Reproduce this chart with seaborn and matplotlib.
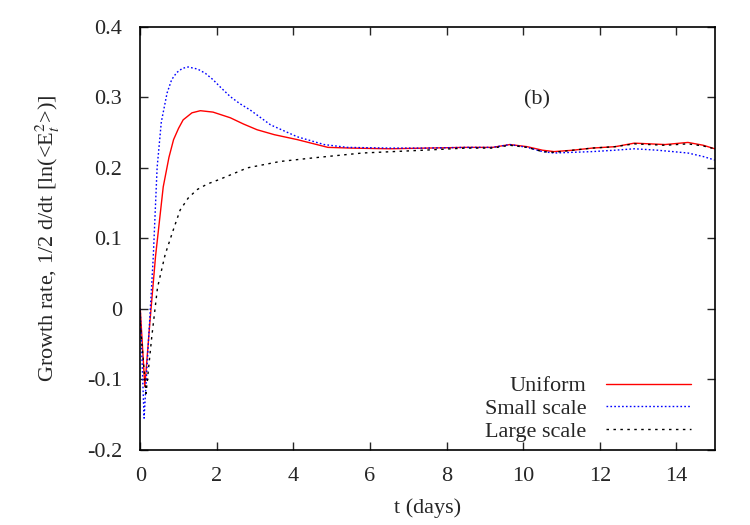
import matplotlib
matplotlib.use("Agg")
import matplotlib.pyplot as plt
import seaborn as sns
import pandas as pd

# values
t_uniform = [0, 0.12, 0.25, 0.4, 0.6, 0.75, 0.87, 1.0, 1.12, 1.35, 1.57, 1.9, 2.35, 2.7, 3.05,
             3.5, 4.1, 4.9, 5.5, 6.5, 7.5, 8.5, 9.2, 9.65, 10.1, 10.5, 10.8, 11.3, 11.8, 12.4,
             12.9, 13.3, 13.7, 14.3, 14.7, 15]
g_uniform = [0.0, -0.11, -0.02, 0.075, 0.173, 0.215, 0.24, 0.256, 0.268, 0.278, 0.281, 0.279,
             0.271, 0.262, 0.254, 0.247, 0.24, 0.229, 0.228, 0.227, 0.228, 0.229, 0.229, 0.233,
             0.23, 0.225, 0.223, 0.225, 0.228, 0.23, 0.235, 0.234, 0.233, 0.236, 0.232, 0.227]

t_small = [0, 0.1, 0.2, 0.34, 0.44, 0.55, 0.7, 0.82, 0.95, 1.1, 1.25, 1.5, 1.7, 1.9, 2.1,
           2.35, 2.6, 2.87, 3.4, 4.1, 4.8, 5.4, 6.5, 7.5, 8.5, 9.2, 9.65, 10.1, 10.5, 10.8,
           11.3, 11.8, 12.4, 12.9, 13.5, 14.3, 14.7, 15]
g_small = [0.0, -0.155, -0.06, 0.074, 0.2, 0.265, 0.306, 0.325, 0.335, 0.341, 0.343, 0.34,
           0.334, 0.325, 0.314, 0.301, 0.291, 0.282, 0.261, 0.244, 0.233, 0.229, 0.228, 0.228,
           0.229, 0.229, 0.233, 0.229, 0.223, 0.221, 0.222, 0.223, 0.225, 0.227, 0.225, 0.221,
           0.216, 0.211]

t_large = [0, 0.15, 0.3, 0.45, 0.65, 0.85, 1.04, 1.25, 1.48, 1.75, 2.09, 2.8, 3.65, 4.5,
           5.8, 7.4, 8.5, 9.2, 9.65, 10.1, 10.5, 10.8, 11.3, 11.8, 12.4, 12.9, 13.3, 13.7,
           14.3, 14.7, 15]
g_large = [-0.02, -0.12, -0.04, 0.03, 0.077, 0.11, 0.14, 0.157, 0.169, 0.177, 0.184, 0.2,
           0.209, 0.214, 0.221, 0.225, 0.228, 0.228, 0.232, 0.229, 0.223, 0.222, 0.225, 0.228,
           0.23, 0.234, 0.233, 0.232, 0.234, 0.231, 0.227]

labels = ["Uniform", "Small scale", "Large scale"]
x_ticks = [0, 2, 4, 6, 8, 10, 12, 14]
y_ticks = [-0.2, -0.1, 0, 0.1, 0.2, 0.3, 0.4]

sns.set_style("white")
plt.rcParams["font.family"] = ["Liberation Serif", "DejaVu Serif"]
plt.rcParams["mathtext.fontset"] = "stix"

fig = plt.figure(figsize=(7.5, 5.25), dpi=100)
ax = fig.add_axes([0.187, 0.143, 0.766, 0.806])

styles = [("red", "-"), ("blue", (0, (1.2, 1.6))), ("black", (0, (1.8, 3.2)))]
series = [(t_uniform, g_uniform), (t_small, g_small), (t_large, g_large)]
for (tt, gg), lab, (col, ls) in zip(series, labels, styles):
    df = pd.DataFrame({"t": tt, "g": gg})
    sns.lineplot(data=df, x="t", y="g", ax=ax, color=col, linestyle=ls,
                 linewidth=1.0, label=lab, sort=False)

ax.set_xlim(0, 15)
ax.set_ylim(-0.2, 0.4)
ax.set_xticks(x_ticks)
ax.set_xticklabels([str(v) for v in x_ticks])
ax.set_yticks(y_ticks)
ax.set_yticklabels(["-0.2", "-0.1", "0", "0.1", "0.2", "0.3", "0.4"])
ax.tick_params(direction="in", length=6, width=1, labelsize=16,
               top=True, right=True, bottom=True, left=True)
ax.tick_params(axis="x", pad=12)
ax.tick_params(axis="y", pad=13)
for sp in ax.spines.values():
    sp.set_linewidth(1.2)
    sp.set_color("black")

ax.set_xlabel("t (days)", fontsize=16, labelpad=9)
ax.set_ylabel(r"Growth rate, 1/2 d/dt [ln(<E$_t^2$>)]", fontsize=16, labelpad=18)
ax.text(10.35, 0.296, "(b)", fontsize=16, ha="center", va="center")

leg = ax.legend(loc="lower right", frameon=False, markerfirst=False, fontsize=16,
                handlelength=3.8, handletextpad=0.9, labelspacing=0.1,
                borderaxespad=0.3, bbox_to_anchor=(0.985, -0.018))
for txt in leg.get_texts():
    txt.set_ha("right")
leg._legend_box.align = "right"

fig.savefig("out.png", dpi=100)
